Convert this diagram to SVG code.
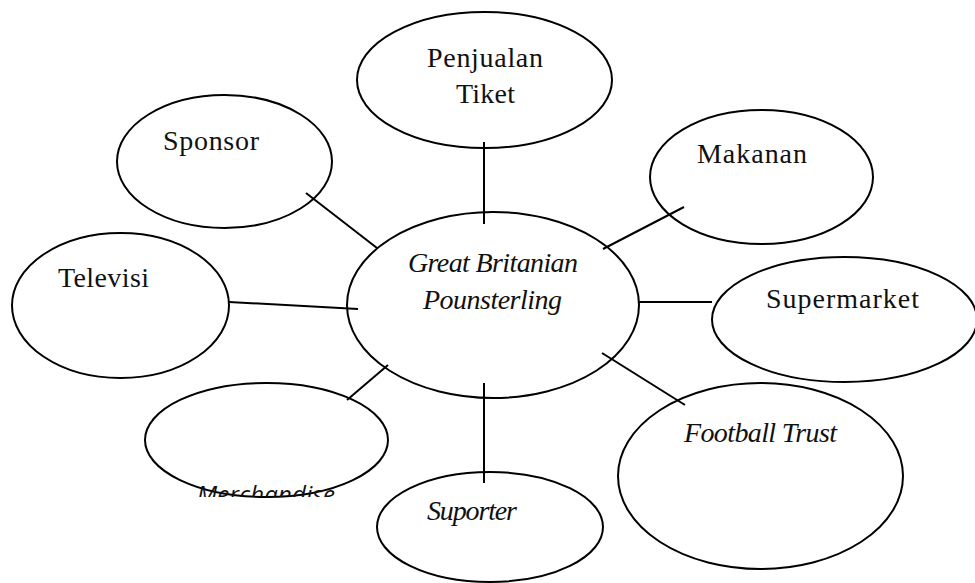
<svg xmlns="http://www.w3.org/2000/svg" width="975" height="583" viewBox="0 0 975 583">
<style>
.n{fill:none;stroke:#000;stroke-width:2}
.c line{stroke:#000;stroke-width:2}
.t{font-family:"Liberation Serif","DejaVu Serif",serif;font-size:28px;fill:#111}
.i{font-style:italic}
.s{font-family:"Open Sans","Liberation Sans",sans-serif;font-style:italic;font-size:24px;fill:#111}
</style>
<defs>
<clipPath id="mclip"><rect x="140" y="380" width="260" height="117"/></clipPath>
</defs>
<rect width="975" height="583" fill="#fff"/>
<g id="connectors" class="c">
<line x1="484" y1="142" x2="484" y2="224"/>
<line x1="306" y1="193" x2="377" y2="248"/>
<line x1="684" y1="207" x2="603" y2="249"/>
<line x1="229" y1="302" x2="358" y2="309"/>
<line x1="638" y1="302" x2="712" y2="302"/>
<line x1="602" y1="353" x2="685" y2="405"/>
<line x1="484" y1="383" x2="484" y2="483"/>
<line x1="388" y1="365" x2="347" y2="400"/>
</g>
<g id="center">
<ellipse class="n" cx="493" cy="305" rx="146" ry="93"/>
<text class="t i" x="408" y="272" textLength="170">Great Britanian</text>
<text class="t i" x="423" y="309" textLength="139">Pounsterling</text>
</g>
<g id="penjualan">
<ellipse class="n" cx="484.5" cy="80" rx="127.5" ry="68"/>
<text class="t" x="427" y="67" textLength="116">Penjualan</text>
<text class="t" x="456" y="103" textLength="59">Tiket</text>
</g>
<g id="sponsor">
<ellipse class="n" cx="224.5" cy="161.5" rx="107.5" ry="66.5"/>
<text class="t" x="163" y="150" textLength="96">Sponsor</text>
</g>
<g id="makanan">
<ellipse class="n" cx="761.5" cy="177" rx="111.5" ry="67"/>
<text class="t" x="697" y="163" textLength="110">Makanan</text>
</g>
<g id="televisi">
<ellipse class="n" cx="120.5" cy="305.5" rx="108.5" ry="72.5"/>
<text class="t" x="58" y="287" textLength="91">Televisi</text>
</g>
<g id="supermarket">
<ellipse class="n" cx="844.5" cy="319.5" rx="132.5" ry="62.5"/>
<text class="t" x="766" y="308" textLength="153">Supermarket</text>
</g>
<g id="football-trust">
<ellipse class="n" cx="760.5" cy="476" rx="142.5" ry="93"/>
<text class="t i" x="684" y="442" textLength="153">Football Trust</text>
</g>
<g id="suporter">
<ellipse class="n" cx="490" cy="527" rx="113" ry="55"/>
<text class="t i" x="427" y="520" textLength="90">Suporter</text>
</g>
<g id="merchandise">
<ellipse class="n" cx="266.5" cy="440" rx="121.5" ry="57"/>
<text class="s" x="197" y="503" textLength="138" clip-path="url(#mclip)">Merchandise</text>
</g>
</svg>
